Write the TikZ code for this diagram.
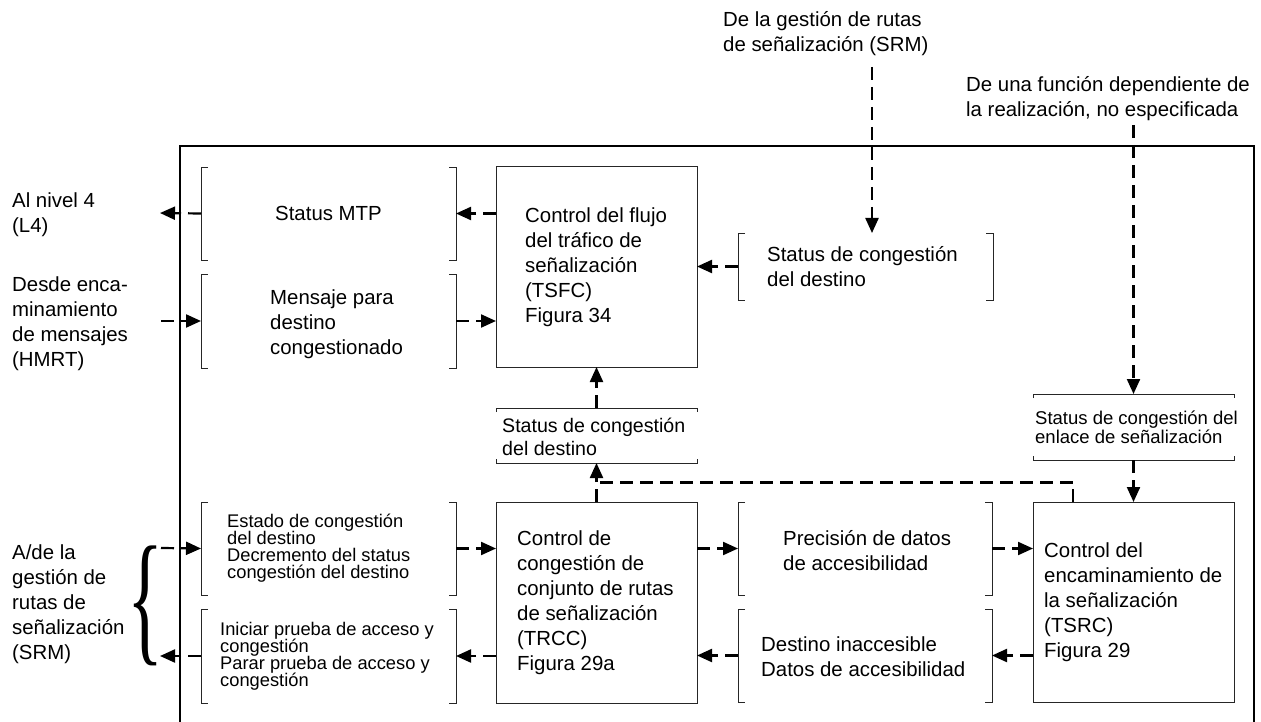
\documentclass[tikz,border=0pt]{standalone}
\usepackage{fontspec}
\setmainfont{Liberation Sans}
\newfontfamily\bracefont{Liberation Serif}
\usepackage{graphicx}
\usetikzlibrary{positioning,arrows.meta,calc}

\newcommand{\fmain}{\fontsize{20.4}{25}\selectfont}
\newcommand{\fsmall}{\fontsize{18.3}{16.9}\selectfont\lineskiplimit=-20pt}
\newcommand{\fmid}{\fontsize{18.5}{19}\selectfont\lineskiplimit=-20pt}
\newcommand{\fsmid}{\fontsize{19.6}{23}\selectfont\lineskiplimit=-20pt}

% square brackets left and right of a node
\newcommand{\sqbrk}[1]{%
  \draw[bline] ([xshift=7pt]#1.north west) -- (#1.north west) -- (#1.south west) -- ([xshift=7pt]#1.south west);
  \draw[bline] ([xshift=-7pt]#1.north east) -- (#1.north east) -- (#1.south east) -- ([xshift=-7pt]#1.south east);}
% brackets above and below a node
\newcommand{\hzbrk}[1]{%
  \draw[bline] ([yshift=-4pt]#1.north west) -- (#1.north west) -- (#1.north east) -- ([yshift=-4pt]#1.north east);
  \draw[bline] ([yshift=4pt]#1.south west) -- (#1.south west) -- (#1.south east) -- ([yshift=4pt]#1.south east);}

\begin{document}
\begin{tikzpicture}[x=1pt, y=-1pt,
  box/.style={draw=black!85, line width=1pt, inner sep=0pt, outer sep=0pt, anchor=north west},
  brk/.style={inner sep=0pt, outer sep=0pt, anchor=north west},
  bline/.style={line width=0.9pt, black!85},
  txt/.style={inner sep=0pt, align=left, anchor=west, font=\fmain},
  dln/.style={line width=2.2pt, dash pattern=on 13pt off 7pt},
  arr/.style={dln, -{Triangle[length=15pt, width=13pt]}},
]
  \useasboundingbox (0,0) rectangle (1261,722);
  \draw[line width=1.2pt] (180,722) |- (1254,146) -- (1254,722);

  \node[box, minimum width=201pt, minimum height=200pt] (tsfc) at (496,167) {};
  \node[box, minimum width=201pt, minimum height=201pt] (trcc) at (496,502) {};
  \node[box, minimum width=201pt, minimum height=200pt] (tsrc) at (1033,502) {};

  \node[brk, minimum width=255pt, minimum height=93pt] (sm) at (201,167) {};
  \node[brk, minimum width=255pt, minimum height=94pt] (mp) at (201,274) {};
  \node[brk, minimum width=255pt, minimum height=67pt] (sd1) at (738,233) {};
  \node[brk, minimum width=201pt, minimum height=55pt] (sd2) at (496,408) {};
  \node[brk, minimum width=201pt, minimum height=66pt] (se) at (1033,394) {};
  \node[brk, minimum width=255pt, minimum height=93pt] (ec) at (201,502) {};
  \node[brk, minimum width=255pt, minimum height=94pt] (ip) at (201,609) {};
  \node[brk, minimum width=254pt, minimum height=93pt] (pd) at (738,502) {};
  \node[brk, minimum width=254pt, minimum height=93pt] (di) at (738,609) {};
  \foreach \b in {sm,mp,sd1,ec,ip,pd,di} {\sqbrk{\b}}
  \hzbrk{sd2}
  \hzbrk{se}

  \node[txt] (tsfct) at ([xshift=29pt]tsfc.west)
    {Control del flujo\\del tráfico de\\señalización\\(TSFC)\\Figura 34};
  \node[txt] (trcct) at ([xshift=21pt]trcc.west)
    {Control de\\congestión de\\conjunto de rutas\\de señalización\\(TRCC)\\Figura 29a};
  \node[txt] (tsrct) at ([xshift=11pt]tsrc.west)
    {Control del\\encaminamiento de\\la señalización\\(TSRC)\\Figura 29};
  \node[txt, anchor=center] (smt) at (sm.center) {Status MTP};
  \node[txt] (mpt) at ([xshift=69pt, yshift=-3pt]mp.west) {Mensaje para\\destino\\congestionado};
  \node[txt] (sd1t) at ([xshift=29pt]sd1.west) {Status de congestión\\del destino};
  \node[txt, font=\fsmid] (sd2t) at ([xshift=6pt, yshift=-1pt]sd2.west) {Status de congestión\\del destino};
  \node[txt, font=\fmid] (set) at ([xshift=2pt]se.west) {Status de congestión del\\enlace de señalización};
  \node[txt, font=\fsmall] (ect) at ([xshift=26pt]ec.west)
    {Estado de congestión\\del destino\\Decremento del status\\congestión del destino};
  \node[txt, font=\fsmall] (ipt) at ([xshift=19pt]ip.west)
    {Iniciar prueba de acceso y\\congestión\\Parar prueba de acceso y\\congestión};
  \node[txt] (pdt) at ([xshift=45pt, yshift=-2pt]pd.west) {Precisión de datos\\de accesibilidad};
  \node[txt] (dit) at ([xshift=23pt, yshift=-1pt]di.west) {Destino inaccesible\\Datos de accesibilidad};

  \node[txt] (l4t) at (12,215) {Al nivel 4\\(L4)};
  \node[txt] (hmrt) at (12,324) {Desde enca-\\minamiento\\de mensajes\\(HMRT)};
  \node[txt] (srmt) at (12,604) {A/de la\\gestión de\\rutas de\\señalización\\(SRM)};
  \node[txt] (srmtop) at (723,34) {De la gestión de rutas\\de señalización (SRM)};
  \node[txt] (funt) at (966,99) {De una función dependiente de\\la realización, no especificada};
  \node[inner sep=0pt] (brace) at (146,606) {\resizebox*{36pt}{120pt}{\bracefont\{}};

  \coordinate (l4) at (160,213);
  \coordinate (hm) at (161,321);
  \coordinate (srmin) at (161,548);
  \coordinate (srmout) at (160,656);
  \coordinate (srmsrc) at (872,67);
  \coordinate (funsrc) at (1133.5,125);
  \coordinate (fb) at ($(trcc.north)!0.5!(sd2.south)$);

  \draw[arr] (tsfc.west |- sm.east) -- (sm.east);
  \draw[arr] (sm.west) -- (l4);
  \draw[arr] (hm) -- (mp.west);
  \draw[arr] (mp.east) -- (tsfc.west |- mp.east);
  \draw[arr] (sd1.west) -- (tsfc.east |- sd1.west);
  \draw[arr] (srmsrc) -- (srmsrc |- sd1.north);
  \draw[arr] (funsrc) -- (se.north);
  \draw[arr] (se.south) -- (tsrc.north);
  \draw[arr] (trcc.north) -- (sd2.south);
  \draw[dln] ([xshift=40pt]tsrc.north west) |- (fb);
  \draw[arr] (sd2.north) -- (tsfc.south);
  \draw[arr] (srmin) -- (ec.west);
  \draw[arr] (ec.east) -- (trcc.west |- ec.east);
  \draw[arr] (trcc.west |- ip.east) -- (ip.east);
  \draw[arr] (ip.west) -- (srmout);
  \draw[arr] (trcc.east |- pd.west) -- (pd.west);
  \draw[arr] (pd.east) -- (tsrc.west |- pd.east);
  \draw[arr] (tsrc.west |- di.east) -- (di.east);
  \draw[arr] (di.west) -- (trcc.east |- di.west);
\end{tikzpicture}
\end{document}
